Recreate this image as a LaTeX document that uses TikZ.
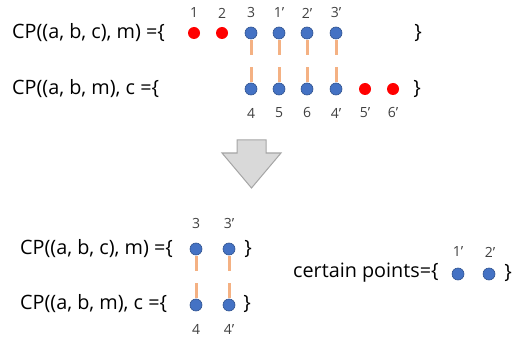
\documentclass[tikz,border=0pt]{standalone}
\usepackage{fontspec}
\setmainfont{Open Sans}
\definecolor{dotblue}{HTML}{4472C4}
\definecolor{dotedge}{HTML}{2F528F}
\definecolor{barorange}{HTML}{F4B183}
\definecolor{arrowfill}{HTML}{D9D9D9}
\definecolor{arrowedge}{HTML}{A5A5A5}
\definecolor{labgray}{HTML}{404040}
\begin{document}
\begin{tikzpicture}[x=1pt,y=-1pt,
  bdot/.style={circle,fill=dotblue,draw=dotedge,line width=0.6pt,inner sep=0pt,minimum size=12pt},
  rdot/.style={circle,fill=red,inner sep=0pt,minimum size=12pt},
  lab/.style={font=\fontsize{14}{14}\selectfont,text=labgray,inner sep=0pt},
  eq/.style={font=\fontsize{19.8}{19.8}\selectfont,anchor=west,inner sep=0pt},
  brc/.style={font=\fontsize{19.8}{19.8}\selectfont,inner sep=0pt},
  bar/.style={draw=barorange,line width=3pt,dash pattern=on 15pt off 12pt}]
\useasboundingbox (0,0) rectangle (513,339);
% top section
\node[eq] (e1) at (12,33) {CP((a, b, c), m) =\{};
\node[eq] (e2) at (12,89) {CP((a, b, m), c =\{};
\foreach \n/\x/\l in {p1/194/1,p2/222/2}{
  \node[rdot] (\n) at (\x,33) {};
  \node[lab] (l\n) at (\x,13) {\l};
}
\foreach \n/\x/\l in {t3/251/3,t4/279/1’,t5/307/2’,t6/336/3’}{
  \node[bdot] (\n) at (\x,33) {};
  \node[lab] (l\n) at (\x,13) {\l};
}
\foreach \n/\x/\l in {b3/251/4,b4/279/5,b5/307/6,b6/336/4’}{
  \node[bdot] (\n) at (\x,89) {};
  \node[lab] (l\n) at (\x,113) {\l};
}
\foreach \n/\x/\l in {r1/365/5’,r2/393/6’}{
  \node[rdot] (\n) at (\x,89) {};
  \node[lab] (l\n) at (\x,113) {\l};
}
\foreach \i in {3,4,5,6}{
  \draw[bar] ([yshift=-1pt]t\i.south) -- (b\i.north);
}
\node[brc] (c1) at (418,33) {\}};
\node[brc] (c2) at (417,89) {\}};
% arrow
\draw[draw=arrowedge,fill=arrowfill,line width=1pt,line join=miter]
  (237,140) -- (266,140) -- (266,153) -- (281,153) -- (251.5,188) -- (222,153) -- (237,153) -- cycle;
% bottom section
\node[eq] (e3) at (20,249) {CP((a, b, c), m) =\{};
\node[eq] (e4) at (20,304) {CP((a, b, m), c =\{};
\node[bdot] (u1) at (196,249) {};
\node[bdot] (u2) at (229,249) {};
\node[bdot] (d1) at (196,305) {};
\node[bdot] (d2) at (229,305) {};
\node[lab] (lu1) at (196,223) {3};
\node[lab] (lu2) at (229,223) {3’};
\node[lab] (ld1) at (196,329) {4};
\node[lab] (ld2) at (229,329) {4’};
\draw[bar] ([yshift=-1pt]u1.south) -- (d1.north);
\draw[bar] ([yshift=-1pt]u2.south) -- (d2.north);
\node[brc] (c3) at (248,249) {\}};
\node[brc] (c4) at (247,304) {\}};
\node[eq] (e5) at (293,273) {certain points=\{};
\node[bdot] (k1) at (458,274) {};
\node[bdot] (k2) at (489,274) {};
\node[lab] (lk1) at (458,252) {1’};
\node[lab] (lk2) at (490,252) {2’};
\node[brc] (c5) at (508,273) {\}};
\end{tikzpicture}
\end{document}
